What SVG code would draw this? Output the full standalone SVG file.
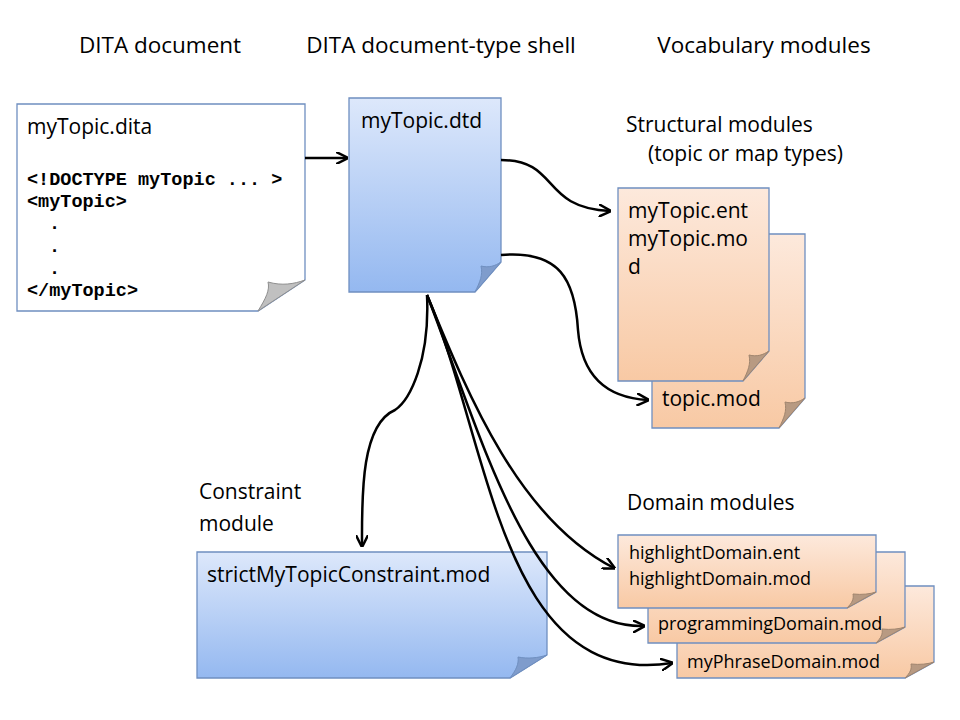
<svg xmlns="http://www.w3.org/2000/svg" width="960" height="720" viewBox="0 0 960 720">
<defs>
<linearGradient id="blue" x1="0" y1="0" x2="0" y2="1"><stop offset="0" stop-color="#dde8fb"/><stop offset="1" stop-color="#94b8f0"/></linearGradient>
<linearGradient id="orange" x1="0" y1="0" x2="0" y2="1"><stop offset="0" stop-color="#fde9dc"/><stop offset="1" stop-color="#f8c9a4"/></linearGradient>
<marker id="arr" viewBox="0 0 10 10" refX="9" refY="5" markerWidth="5" markerHeight="5" orient="auto"><path d="M0,0 L10,5 L0,10" fill="none" stroke="#000" stroke-width="2"/></marker>
</defs>
<style>
text{font-family:"Open Sans","Liberation Sans",sans-serif;font-size:21px;fill:#000}
.h{font-size:22.5px;text-anchor:middle}
.d{font-size:18px}
.mono{font-family:"Liberation Mono","Courier New",monospace;font-weight:bold;font-size:18.5px}
.note{stroke:#6f8fc0;stroke-width:1.3}
.curlb{fill:#7f9ccc;stroke:#6f8fc0}
.curlo{fill:#b89a82;stroke:#a0856e}
.curlw{fill:#c0c0c0;stroke:#8f8f8f}
.c{fill:none;stroke:#000;stroke-width:2.5;marker-end:url(#arr)}
</style>
<text class="h" x="160" y="53">DITA document</text>
<text class="h" x="441" y="53">DITA document-type shell</text>
<text class="h" x="764" y="53">Vocabulary modules</text>
<text x="626" y="132">Structural  modules</text>
<text x="648" y="161">(topic or map types)</text>
<text x="199" y="499">Constraint</text>
<text x="199" y="531">module</text>
<text x="627" y="510">Domain modules</text>

<g id="ditaDoc">
<path class="note" d="M17,104 H305 V280 L258,311 H17 Z" fill="#fff"/>
<path class="curlw" d="M305,280 L258,311 C266,298 270,290 268,282 C282,286 294,284 305,280 Z"/>
<text x="27" y="134">myTopic.dita</text>
<text class="mono" x="27" y="185">&lt;!DOCTYPE myTopic ... &gt;</text>
<text class="mono" x="27" y="207">&lt;myTopic&gt;</text>
<text class="mono" x="49" y="229">.</text>
<text class="mono" x="49" y="252">.</text>
<text class="mono" x="49" y="274">.</text>
<text class="mono" x="27" y="296">&lt;/myTopic&gt;</text>
</g>

<g id="dtd">
<path class="note" d="M349,98 H501 V262 L475,292 H349 Z" fill="url(#blue)"/>
<path class="curlb" d="M501,262 L475,292 C480,282 483,275 481,266 C489,268 495,266 501,262 Z"/>
<text x="361" y="128">myTopic.dtd</text>
</g>

<g id="topicMod">
<path class="note" d="M652,234 H805 V398 L779,428 H652 Z" fill="url(#orange)"/>
<path class="curlo" d="M805,398 L779,428 C784,418 787,411 785,402 C793,404 799,402 805,398 Z"/>
<text x="662" y="406">topic.mod</text>
</g>
<g id="myTopicEnt">
<path class="note" d="M618,188 H769 V351 L743,381 H618 Z" fill="url(#orange)"/>
<path class="curlo" d="M769,351 L743,381 C748,371 751,364 749,355 C757,357 763,355 769,351 Z"/>
<text x="628" y="218">myTopic.ent</text>
<text x="628" y="246">myTopic.mo</text>
<text x="628" y="274">d</text>
</g>

<g id="constraint">
<path class="note" d="M197,552 H547 V655 L510,678 H197 Z" fill="url(#blue)"/>
<path class="curlb" d="M547,655 L510,678 C516,670 519,664 518,657 C528,659 538,658 547,655 Z"/>
<text x="207" y="582">strictMyTopicConstraint.mod</text>
</g>

<g id="myPhrase">
<path class="note" d="M677,586 H934 V662 L905,678 H677 Z" fill="url(#orange)"/>
<path class="curlo" d="M934,662 L905,678 C910,673 912,669 911,664 C920,665 928,664 934,662 Z"/>
<text class="d" x="687" y="668">myPhraseDomain.mod</text>
</g>
<g id="programming">
<path class="note" d="M648,552 H905 V627 L876,643 H648 Z" fill="url(#orange)"/>
<path class="curlo" d="M905,627 L876,643 C881,638 883,634 882,629 C891,630 899,629 905,627 Z"/>
<text class="d" x="658" y="630">programmingDomain.mod</text>
</g>
<g id="highlight">
<path class="note" d="M618,535 H876 V592 L847,608 H618 Z" fill="url(#orange)"/>
<path class="curlo" d="M876,592 L847,608 C852,603 854,599 853,594 C862,595 870,594 876,592 Z"/>
<text class="d" x="629" y="559">highlightDomain.ent</text>
<text class="d" x="629" y="585">highlightDomain.mod</text>
</g>

<g id="connectors">
<path class="c" d="M305,158 H347"/>
<path class="c" d="M501,160 C560,160 540,208 610,211"/>
<path class="c" d="M501,255 C560,250 575,280 578,330 C582,380 610,398 648,400"/>
<path class="c" d="M427,295 C430,360 410,400 395,410 C360,425 362,500 362,546"/>
<path class="c" d="M427,295 C470,400 520,520 614,568"/>
<path class="c" d="M427,295 C480,430 530,630 644,626"/>
<path class="c" d="M427,295 C490,440 500,690 672,663"/>
</g>
</svg>
